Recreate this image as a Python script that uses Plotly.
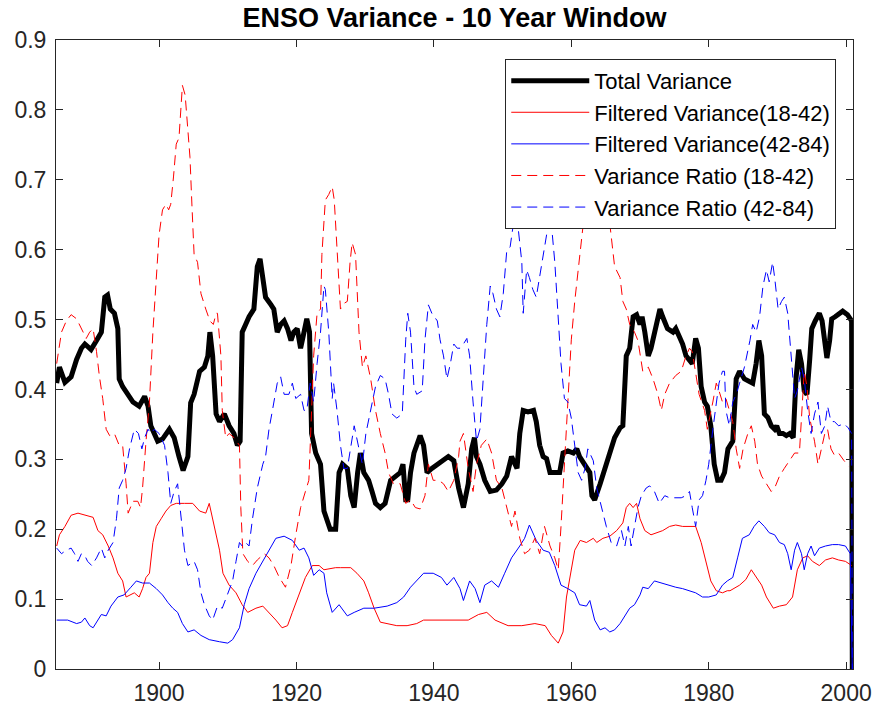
import plotly.graph_objects as go

# ---------------- data ----------------
tv_x = [1885.1,1885.5,1886.3,1887.2,1888.0,1888.7,1889.2,1890.1,1890.9,1891.6,1892.1,1892.5,1892.9,1893.5,1894.0,1894.2,1894.7,1895.5,1896.2,1897.1,1897.9,1898.4,1898.8,1899.8,1900.5,1901.5,1902.2,1902.9,1903.5,1904.2,1904.6,1905.1,1905.9,1906.6,1907.1,1907.4,1907.8,1908.3,1908.8,1909.5,1910.2,1910.9,1911.4,1911.8,1912.1,1912.6,1913.1,1913.8,1914.3,1914.7,1915.1,1915.5,1916.3,1916.7,1917.2,1917.7,1918.2,1918.7,1919.2,1919.6,1920.1,1920.6,1921.1,1921.5,1921.9,1922.2,1922.8,1923.5,1924.0,1924.2,1924.9,1925.7,1926.2,1926.7,1927.4,1927.9,1928.4,1928.9,1929.3,1929.8,1930.5,1931.0,1931.5,1932.2,1932.9,1933.7,1934.4,1935.1,1935.5,1935.9,1936.2,1936.6,1937.1,1937.5,1938.0,1938.5,1939.0,1939.7,1940.5,1941.4,1942.1,1942.9,1943.6,1944.3,1945.0,1945.5,1945.9,1946.2,1946.7,1947.4,1948.2,1949.1,1949.9,1950.6,1951.3,1952.1,1952.5,1953.0,1953.7,1954.5,1954.9,1955.4,1955.9,1956.4,1956.9,1957.6,1958.3,1958.8,1959.5,1960.3,1960.8,1961.2,1962.0,1962.7,1963.0,1963.4,1964.2,1964.9,1965.6,1966.3,1967.1,1967.5,1968.0,1968.5,1969.0,1969.5,1970.0,1970.3,1970.7,1971.2,1971.6,1972.1,1972.6,1972.9,1973.3,1974.0,1974.8,1975.2,1975.7,1976.2,1976.7,1977.2,1977.6,1978.1,1978.5,1978.9,1979.4,1979.8,1980.3,1980.8,1981.3,1981.8,1982.3,1982.8,1983.5,1984.0,1984.5,1985.2,1986.0,1986.4,1986.9,1987.3,1987.7,1987.9,1988.1,1988.6,1989.1,1989.6,1989.9,1990.3,1990.8,1991.3,1991.8,1992.3,1992.7,1993.1,1993.5,1993.9,1994.3,1994.7,1995.0,1995.5,1996.1,1996.5,1996.9,1997.2,1997.6,1997.9,1998.4,1998.9,1999.5,2000.2,2000.8,2000.9]
total_variance = [0.409,0.432,0.410,0.418,0.443,0.459,0.465,0.457,0.470,0.482,0.532,0.535,0.515,0.509,0.487,0.415,0.404,0.393,0.382,0.376,0.390,0.376,0.348,0.326,0.329,0.343,0.331,0.304,0.284,0.304,0.381,0.393,0.426,0.432,0.448,0.482,0.448,0.365,0.354,0.365,0.348,0.337,0.320,0.326,0.482,0.493,0.504,0.515,0.576,0.587,0.560,0.532,0.521,0.515,0.482,0.493,0.498,0.487,0.470,0.482,0.487,0.459,0.482,0.501,0.482,0.337,0.309,0.293,0.226,0.220,0.200,0.200,0.281,0.293,0.287,0.248,0.231,0.281,0.309,0.281,0.270,0.254,0.237,0.231,0.237,0.270,0.276,0.281,0.293,0.242,0.242,0.281,0.309,0.320,0.334,0.320,0.281,0.287,0.293,0.298,0.304,0.298,0.259,0.231,0.265,0.315,0.331,0.304,0.293,0.270,0.254,0.256,0.265,0.276,0.304,0.287,0.337,0.370,0.368,0.370,0.354,0.320,0.304,0.301,0.281,0.281,0.281,0.309,0.312,0.309,0.315,0.304,0.293,0.281,0.248,0.242,0.265,0.287,0.309,0.331,0.345,0.348,0.448,0.459,0.504,0.507,0.493,0.504,0.482,0.448,0.459,0.482,0.498,0.515,0.504,0.487,0.482,0.487,0.476,0.465,0.448,0.443,0.437,0.473,0.459,0.404,0.382,0.376,0.348,0.293,0.270,0.270,0.281,0.315,0.326,0.415,0.426,0.415,0.412,0.409,0.437,0.470,0.448,0.398,0.365,0.360,0.348,0.343,0.348,0.337,0.337,0.334,0.337,0.331,0.415,0.457,0.437,0.398,0.393,0.443,0.487,0.498,0.509,0.498,0.470,0.445,0.470,0.501,0.504,0.507,0.512,0.507,0.498,0.0]

fv1_x = [1885.1,1885.5,1886.3,1887.2,1888.2,1889.2,1890.4,1891.1,1891.8,1892.6,1893.3,1894.0,1894.7,1895.2,1895.7,1896.4,1897.1,1897.6,1898.1,1898.6,1899.1,1899.6,1900.3,1901.0,1901.7,1902.5,1903.7,1904.9,1905.9,1906.8,1907.3,1907.8,1908.3,1908.8,1909.3,1910.2,1911.2,1912.1,1912.9,1914.1,1915.1,1916.0,1917.0,1917.9,1918.7,1919.4,1920.4,1921.3,1922.3,1923.3,1924.0,1925.7,1926.4,1927.9,1928.8,1929.8,1930.5,1931.3,1932.2,1933.2,1934.6,1936.1,1937.5,1938.5,1939.9,1941.9,1943.6,1945.0,1946.5,1947.7,1948.9,1950.8,1952.8,1954.7,1956.2,1957.1,1958.1,1958.8,1959.3,1959.8,1960.5,1961.3,1962.2,1963.2,1963.7,1964.6,1965.6,1966.6,1967.5,1968.0,1968.5,1969.0,1969.5,1970.0,1970.7,1971.6,1972.4,1973.3,1974.3,1975.2,1976.2,1977.2,1978.1,1978.9,1979.6,1980.3,1981.1,1982.0,1982.7,1983.1,1984.5,1985.4,1986.2,1986.9,1987.7,1988.4,1989.4,1990.3,1991.3,1992.2,1992.9,1993.7,1994.4,1995.1,1996.1,1997.0,1998.0,1998.9,1999.9,2000.8]
filtered_var_18_42 = [0.176,0.192,0.204,0.220,0.223,0.220,0.217,0.198,0.192,0.176,0.159,0.137,0.126,0.103,0.106,0.109,0.103,0.115,0.131,0.137,0.181,0.204,0.215,0.226,0.234,0.237,0.237,0.237,0.226,0.223,0.237,0.215,0.192,0.170,0.137,0.120,0.109,0.092,0.081,0.087,0.090,0.081,0.070,0.059,0.062,0.081,0.109,0.131,0.148,0.148,0.142,0.145,0.145,0.145,0.137,0.126,0.109,0.087,0.067,0.065,0.062,0.062,0.065,0.070,0.070,0.070,0.070,0.070,0.078,0.081,0.070,0.062,0.062,0.065,0.062,0.048,0.037,0.053,0.103,0.131,0.170,0.184,0.181,0.187,0.181,0.187,0.190,0.198,0.209,0.231,0.237,0.231,0.237,0.215,0.198,0.192,0.195,0.198,0.204,0.206,0.204,0.204,0.204,0.181,0.154,0.126,0.112,0.109,0.112,0.112,0.120,0.128,0.142,0.131,0.120,0.103,0.087,0.090,0.092,0.103,0.142,0.159,0.162,0.154,0.148,0.156,0.159,0.156,0.154,0.148]

fv2_x = [1885.1,1886.7,1888.0,1888.7,1889.2,1889.9,1890.4,1891.1,1891.6,1892.3,1893.0,1894.0,1894.9,1895.9,1896.7,1897.6,1898.6,1899.6,1900.5,1901.3,1902.0,1902.7,1903.4,1904.2,1905.1,1906.1,1907.3,1908.8,1910.0,1910.7,1911.7,1912.4,1913.1,1914.1,1915.1,1916.0,1917.0,1918.2,1919.4,1920.4,1921.1,1921.8,1922.5,1923.3,1924.0,1924.4,1925.2,1926.2,1927.4,1928.4,1929.8,1931.3,1933.2,1934.6,1935.6,1936.6,1937.5,1938.5,1939.9,1941.1,1941.9,1942.9,1943.8,1944.3,1945.2,1946.0,1946.7,1947.4,1948.4,1949.4,1950.3,1951.3,1952.5,1953.2,1953.9,1954.9,1955.9,1956.8,1957.6,1958.5,1959.5,1960.5,1961.2,1962.2,1962.7,1963.4,1964.2,1964.9,1965.6,1966.3,1967.1,1967.8,1968.5,1969.2,1970.0,1970.4,1971.2,1972.1,1973.1,1974.3,1975.2,1976.2,1977.2,1978.1,1979.1,1980.0,1981.1,1982.0,1982.7,1983.5,1984.2,1984.9,1985.9,1986.6,1987.3,1988.1,1988.8,1989.6,1990.3,1991.0,1991.5,1992.0,1992.5,1992.9,1993.5,1993.9,1994.4,1994.9,1995.4,1996.1,1997.0,1998.0,1998.9,1999.9,2000.6,2000.9]
filtered_var_42_84 = [0.070,0.070,0.065,0.067,0.073,0.062,0.059,0.070,0.078,0.076,0.090,0.103,0.106,0.117,0.126,0.123,0.123,0.115,0.106,0.095,0.087,0.081,0.065,0.053,0.056,0.048,0.042,0.039,0.037,0.042,0.059,0.092,0.115,0.137,0.154,0.170,0.187,0.190,0.184,0.170,0.173,0.159,0.134,0.142,0.137,0.109,0.081,0.092,0.076,0.081,0.087,0.087,0.090,0.095,0.103,0.117,0.126,0.137,0.137,0.131,0.120,0.131,0.115,0.098,0.126,0.115,0.095,0.120,0.126,0.117,0.137,0.159,0.176,0.187,0.206,0.184,0.170,0.167,0.148,0.120,0.115,0.109,0.092,0.090,0.098,0.070,0.056,0.059,0.053,0.056,0.065,0.076,0.087,0.092,0.106,0.117,0.115,0.126,0.123,0.120,0.117,0.115,0.112,0.109,0.103,0.103,0.106,0.120,0.126,0.131,0.159,0.187,0.192,0.204,0.212,0.204,0.195,0.192,0.181,0.178,0.165,0.142,0.170,0.181,0.165,0.142,0.165,0.176,0.162,0.173,0.176,0.178,0.178,0.176,0.165,0.0]

vr1_x = [1885.1,1885.8,1886.5,1887.2,1888.0,1888.4,1888.9,1889.4,1889.9,1890.4,1890.9,1891.3,1891.8,1892.3,1892.8,1893.5,1894.2,1894.7,1895.2,1895.5,1896.2,1896.9,1897.3,1897.6,1898.1,1898.6,1899.1,1899.6,1900.0,1900.5,1901.0,1901.4,1901.7,1902.1,1902.5,1902.9,1903.2,1903.4,1903.8,1904.2,1904.5,1904.8,1905.1,1905.6,1906.1,1906.8,1907.4,1907.9,1908.3,1908.5,1909.0,1909.2,1909.7,1910.2,1910.9,1911.7,1911.9,1912.2,1912.9,1913.6,1914.3,1915.3,1916.0,1916.7,1917.5,1918.4,1919.2,1919.9,1920.6,1921.3,1921.8,1922.2,1922.5,1923.0,1923.5,1923.7,1924.2,1924.7,1925.2,1925.5,1925.9,1926.4,1926.9,1927.4,1927.8,1928.1,1928.6,1929.1,1929.6,1930.1,1930.8,1931.5,1932.2,1932.9,1933.4,1934.1,1935.1,1935.9,1936.6,1937.3,1938.0,1938.7,1939.2,1939.9,1940.7,1941.4,1942.1,1942.9,1943.6,1943.8,1944.3,1945.0,1945.7,1946.2,1946.9,1947.7,1948.4,1949.1,1949.9,1950.6,1951.3,1951.8,1952.5,1953.2,1953.9,1954.7,1955.4,1956.1,1956.9,1957.6,1958.1,1958.5,1959.0,1959.5,1960.0,1960.5,1961.0,1961.5,1962.0,1962.4,1963.0,1964.0,1965.0,1966.3,1967.1,1967.5,1968.0,1968.5,1969.2,1969.7,1970.0,1970.4,1971.2,1971.9,1972.6,1973.1,1973.6,1974.3,1975.2,1976.0,1976.7,1977.2,1977.6,1978.1,1978.6,1979.4,1979.8,1980.6,1981.1,1981.5,1982.0,1982.5,1983.0,1983.5,1984.0,1984.5,1985.0,1985.7,1986.2,1986.7,1987.1,1987.7,1988.4,1989.1,1989.6,1990.3,1991.0,1991.8,1992.5,1993.2,1993.6,1993.9,1994.3,1994.7,1995.4,1995.9,1996.4,1996.9,1997.3,1997.8,1998.3,1998.9,1999.7,2000.4]
var_ratio_18_42 = [0.437,0.482,0.498,0.507,0.501,0.493,0.482,0.473,0.482,0.487,0.454,0.420,0.387,0.343,0.334,0.337,0.320,0.320,0.265,0.223,0.240,0.240,0.231,0.259,0.326,0.382,0.482,0.565,0.621,0.657,0.665,0.657,0.665,0.704,0.751,0.760,0.804,0.835,0.821,0.776,0.732,0.660,0.593,0.582,0.537,0.515,0.498,0.493,0.509,0.509,0.448,0.370,0.331,0.337,0.331,0.320,0.231,0.165,0.154,0.148,0.156,0.165,0.159,0.148,0.131,0.117,0.148,0.192,0.231,0.254,0.270,0.370,0.448,0.509,0.515,0.593,0.671,0.679,0.690,0.671,0.604,0.515,0.523,0.526,0.582,0.610,0.593,0.482,0.432,0.448,0.415,0.370,0.337,0.309,0.281,0.265,0.265,0.237,0.242,0.231,0.229,0.248,0.293,0.270,0.270,0.265,0.254,0.270,0.304,0.326,0.337,0.287,0.254,0.293,0.320,0.329,0.309,0.270,0.259,0.231,0.204,0.226,0.187,0.165,0.170,0.187,0.165,0.204,0.176,0.159,0.142,0.204,0.287,0.382,0.471,0.526,0.571,0.621,0.660,0.682,0.700,0.720,0.690,0.576,0.560,0.526,0.515,0.493,0.482,0.470,0.448,0.426,0.432,0.415,0.393,0.370,0.393,0.409,0.420,0.426,0.448,0.459,0.454,0.426,0.393,0.370,0.343,0.382,0.409,0.398,0.382,0.387,0.370,0.354,0.315,0.287,0.315,0.337,0.348,0.326,0.293,0.276,0.265,0.254,0.259,0.276,0.287,0.298,0.309,0.309,0.382,0.426,0.404,0.359,0.326,0.293,0.315,0.337,0.343,0.315,0.306,0.309,0.298,0.290]

vr2_x = [1885.1,1885.8,1886.5,1887.2,1887.7,1888.2,1888.7,1889.2,1889.6,1890.2,1890.9,1891.6,1892.1,1892.6,1893.3,1893.8,1894.2,1894.7,1895.2,1895.7,1896.4,1897.0,1897.5,1897.9,1898.4,1898.8,1899.3,1900.0,1900.8,1901.3,1901.7,1902.2,1902.7,1903.2,1903.7,1904.2,1905.1,1905.6,1906.1,1906.6,1907.3,1907.8,1908.5,1909.2,1910.0,1910.7,1911.2,1911.7,1912.1,1912.6,1913.1,1913.6,1914.3,1915.1,1915.5,1916.0,1916.5,1917.2,1917.7,1918.2,1918.9,1919.4,1919.9,1920.6,1921.1,1921.5,1922.0,1922.5,1923.0,1923.5,1924.0,1924.2,1924.7,1925.2,1925.4,1925.9,1926.4,1926.9,1927.4,1927.9,1928.4,1929.1,1929.6,1930.1,1930.8,1931.5,1932.2,1932.9,1933.4,1933.9,1934.6,1935.4,1935.9,1936.2,1936.6,1937.1,1937.5,1938.3,1938.7,1939.2,1939.7,1940.5,1940.9,1941.4,1941.9,1942.4,1942.9,1943.4,1943.8,1944.3,1944.8,1945.2,1945.7,1946.2,1946.7,1947.2,1947.7,1948.2,1948.6,1949.1,1949.6,1950.1,1950.6,1951.1,1951.6,1951.9,1952.2,1952.8,1953.0,1953.5,1953.9,1954.4,1954.9,1955.4,1955.9,1956.4,1956.7,1957.1,1957.6,1958.1,1958.5,1959.0,1959.5,1960.0,1960.5,1961.0,1961.5,1962.0,1962.4,1962.9,1963.2,1963.7,1964.4,1965.1,1965.8,1966.6,1967.3,1967.8,1968.3,1968.7,1969.2,1969.7,1970.2,1970.9,1971.4,1972.1,1972.8,1973.6,1974.3,1975.2,1976.0,1976.7,1977.2,1977.6,1978.1,1978.6,1979.1,1979.6,1980.0,1980.6,1981.1,1981.5,1982.0,1982.3,1982.5,1983.0,1983.5,1984.0,1984.5,1985.2,1986.0,1986.4,1986.9,1987.4,1987.9,1988.4,1988.8,1989.3,1989.6,1990.1,1990.6,1991.0,1991.5,1992.0,1992.5,1992.9,1993.5,1993.9,1994.4,1994.9,1995.4,1995.9,1996.4,1996.9,1997.3,1997.8,1998.3,1998.9,1999.7,2000.3,2000.8,2000.9]
var_ratio_42_84 = [0.173,0.165,0.170,0.173,0.165,0.154,0.165,0.162,0.154,0.148,0.159,0.173,0.159,0.170,0.181,0.215,0.259,0.270,0.287,0.315,0.343,0.337,0.315,0.331,0.343,0.337,0.343,0.337,0.320,0.281,0.237,0.254,0.265,0.220,0.170,0.148,0.154,0.142,0.109,0.092,0.076,0.070,0.090,0.087,0.109,0.126,0.154,0.181,0.176,0.181,0.176,0.215,0.259,0.293,0.304,0.343,0.370,0.409,0.418,0.393,0.393,0.409,0.387,0.393,0.370,0.370,0.409,0.382,0.437,0.482,0.548,0.543,0.482,0.387,0.409,0.370,0.320,0.287,0.287,0.320,0.348,0.315,0.293,0.337,0.370,0.404,0.420,0.415,0.393,0.365,0.359,0.365,0.471,0.509,0.482,0.404,0.393,0.398,0.471,0.521,0.509,0.498,0.471,0.448,0.415,0.437,0.465,0.459,0.459,0.465,0.473,0.448,0.382,0.326,0.343,0.415,0.493,0.548,0.537,0.515,0.504,0.537,0.598,0.604,0.637,0.660,0.637,0.582,0.509,0.571,0.560,0.543,0.532,0.560,0.593,0.621,0.648,0.637,0.582,0.509,0.437,0.387,0.382,0.359,0.320,0.281,0.270,0.287,0.315,0.304,0.298,0.259,0.231,0.204,0.181,0.176,0.198,0.176,0.204,0.176,0.204,0.231,0.248,0.259,0.262,0.254,0.237,0.248,0.245,0.245,0.245,0.248,0.254,0.231,0.204,0.242,0.248,0.270,0.293,0.343,0.382,0.409,0.426,0.426,0.370,0.348,0.382,0.393,0.409,0.432,0.470,0.493,0.482,0.504,0.548,0.571,0.554,0.582,0.560,0.515,0.526,0.532,0.509,0.448,0.387,0.398,0.432,0.415,0.370,0.337,0.365,0.382,0.337,0.348,0.376,0.354,0.354,0.348,0.351,0.345,0.337,0.0]

names = ["Total Variance", "Filtered Variance(18-42)", "Filtered Variance(42-84)",
         "Variance Ratio (18-42)", "Variance Ratio (42-84)"]
y_ticks = [0, 0.1, 0.2, 0.3, 0.4, 0.5, 0.6, 0.7, 0.8, 0.9]
y_tick_text = ["0", "0.1", "0.2", "0.3", "0.4", "0.5", "0.6", "0.7", "0.8", "0.9"]
x_ticks = [1900, 1920, 1940, 1960, 1980, 2000]

# ---------------- figure ----------------
AX = "#262626"
FONT = "Liberation Sans, Arial, Helvetica, sans-serif"
DASH = "10px,6px"

fig = go.Figure()
series = [
    (tv_x, total_variance, "#000000", 5, "solid"),
    (fv1_x, filtered_var_18_42, "#ff0000", 1, "solid"),
    (fv2_x, filtered_var_42_84, "#0000ff", 1, "solid"),
    (vr1_x, var_ratio_18_42, "#ff0000", 1, DASH),
    (vr2_x, var_ratio_42_84, "#0000ff", 1, DASH),
]
for i, (xs, ys, col, w, dash) in enumerate(series):
    fig.add_trace(go.Scatter(x=xs, y=ys, mode="lines", name=names[i],
                             line=dict(color=col, width=w, dash=dash)))

axis_common = dict(showline=True, linecolor=AX, linewidth=1, mirror="ticks",
                   ticks="inside", ticklen=7, tickcolor=AX, tickwidth=1,
                   showgrid=False, zeroline=False, automargin=False,
                   tickfont=dict(family=FONT, size=23, color=AX))

fig.update_layout(
    width=878, height=713,
    margin=dict(l=56, r=25, t=40, b=44),
    paper_bgcolor="white", plot_bgcolor="white",
    title=dict(text="<b>ENSO Variance - 10 Year Window</b>",
               font=dict(family=FONT, size=27, color="#000000"),
               x=0.5, xref="paper", xanchor="center",
               y=0.975, yref="container", yanchor="middle"),
    xaxis=dict(range=[1885, 2001], tickvals=x_ticks, ticklabelstandoff=3,
               **axis_common),
    yaxis=dict(range=[0, 0.9], tickvals=y_ticks, ticktext=y_tick_text,
               ticklabelstandoff=4, **axis_common),
    legend=dict(x=0.979, y=0.970, xanchor="right", yanchor="top",
                bgcolor="white", bordercolor=AX, borderwidth=1,
                itemwidth=78,
                font=dict(family=FONT, size=22, color="#000000")),
    showlegend=True,
)

fig.write_html("out.html")
